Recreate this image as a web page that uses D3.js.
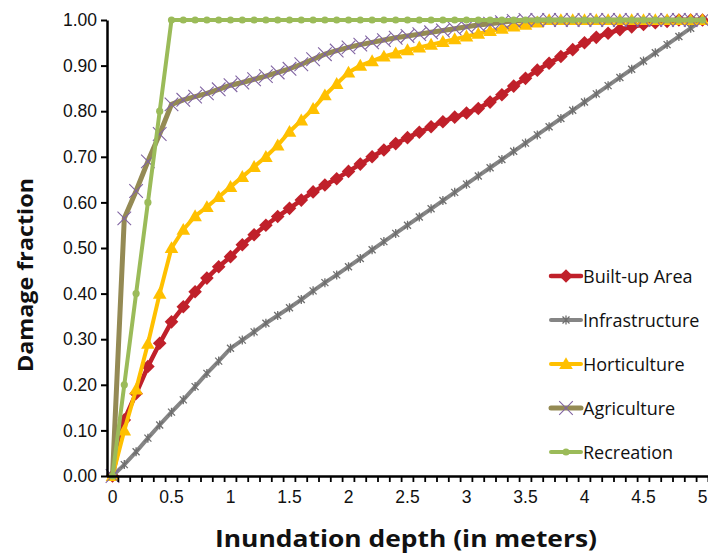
<!DOCTYPE html>
<html>
<head>
<meta charset="utf-8">
<script src="https://cdn.jsdelivr.net/npm/d3@7"></script>
<style>
  body { margin: 0; background: #fff; }
  svg { display: block; font-family: "Open Sans", Lato, sans-serif; }
</style>
</head>
<body>
<div id="chart"></div>
<script>
// Inundation depth categories (m)
var depths = ["0","0.1","0.2","0.3","0.4","0.5","0.6","0.7","0.8","0.9",
              "1","1.1","1.2","1.3","1.4","1.5","1.6","1.7","1.8","1.9",
              "2","2.1","2.2","2.3","2.4","2.5","2.6","2.7","2.8","2.9",
              "3","3.1","3.2","3.3","3.4","3.5","3.6","3.7","3.8","3.9",
              "4","4.1","4.2","4.3","4.4","4.5","4.6","4.7","4.8","4.9","5"];

var builtUp = [0, 0.123, 0.181, 0.24, 0.291, 0.338, 0.371, 0.404, 0.434, 0.459,
               0.481, 0.507, 0.529, 0.55, 0.569, 0.587, 0.605, 0.623, 0.638, 0.652,
               0.668, 0.684, 0.70, 0.715, 0.729, 0.742, 0.754, 0.766, 0.777, 0.787,
               0.796, 0.806, 0.82, 0.836, 0.855, 0.872, 0.89, 0.905, 0.92, 0.935,
               0.95, 0.962, 0.971, 0.979, 0.985, 0.99, 0.994, 0.997, 1, 1, 1];

var infrastructure = [0, 0.025, 0.053, 0.083, 0.112, 0.14, 0.167, 0.196, 0.225, 0.252,
                      0.28, 0.298, 0.316, 0.335, 0.352, 0.369, 0.387, 0.406, 0.424, 0.441,
                      0.459, 0.477, 0.496, 0.514, 0.532, 0.55, 0.568, 0.586, 0.604, 0.622,
                      0.64, 0.658, 0.676, 0.694, 0.712, 0.73, 0.748, 0.766, 0.784, 0.802,
                      0.82, 0.838, 0.856, 0.874, 0.892, 0.91, 0.928, 0.946, 0.964, 0.982, 1];

var horticulture = [0, 0.10, 0.19, 0.29, 0.40, 0.50, 0.54, 0.57, 0.59, 0.612,
                    0.634, 0.656, 0.678, 0.70, 0.725, 0.755, 0.78, 0.805, 0.835, 0.86,
                    0.885, 0.90, 0.91, 0.92, 0.927, 0.934, 0.94, 0.946, 0.952, 0.958,
                    0.964, 0.97, 0.976, 0.981, 0.986, 0.99, 0.995, 1, 1, 1,
                    1, 1, 1, 1, 1, 1, 1, 1, 1, 1, 1];

var agriculture = [0, 0.565, 0.625, 0.69, 0.75, 0.815, 0.825, 0.832, 0.839, 0.848,
                   0.857, 0.863, 0.87, 0.877, 0.885, 0.893, 0.903, 0.914, 0.925, 0.933,
                   0.94, 0.946, 0.951, 0.956, 0.961, 0.965, 0.969, 0.973, 0.977, 0.981,
                   0.985, 0.989, 0.992, 0.995, 0.998, 1, 1, 1, 1, 1,
                   1, 1, 1, 1, 1, 1, 1, 1, 1, 1, 1];

var recreation = [0, 0.2, 0.4, 0.6, 0.8, 1, 1, 1, 1, 1,
                  1, 1, 1, 1, 1, 1, 1, 1, 1, 1,
                  1, 1, 1, 1, 1, 1, 1, 1, 1, 1,
                  1, 1, 1, 1, 1, 1, 1, 1, 1, 1,
                  1, 1, 1, 1, 1, 1, 1, 1, 1, 1, 1];

var yTicks = [0, 0.1, 0.2, 0.3, 0.4, 0.5, 0.6, 0.7, 0.8, 0.9, 1.0];

var series = [
  { name: "Built-up Area",  values: builtUp,        line: "#c0202a", width: 4.5, marker: "diamond" },
  { name: "Infrastructure", values: infrastructure, line: "#858585", width: 4,   marker: "star" },
  { name: "Horticulture",   values: horticulture,   line: "#ffc000", width: 4,   marker: "triangle" },
  { name: "Agriculture",    values: agriculture,    line: "#948a54", width: 5,   marker: "cross" },
  { name: "Recreation",     values: recreation,     line: "#9bbb59", width: 4,   marker: "circle" }
];

var width = 708, height = 553;

var svg = d3.select("#chart").append("svg")
  .attr("width", width)
  .attr("height", height);

var x = d3.scaleBand().domain(depths).range([106.6, 708.4]).paddingInner(0).paddingOuter(0);
var y = d3.scaleLinear().domain([0, 1]).range([476, 20]);
var cx = function(d) { return x(d) + x.bandwidth() / 2; };

// marker drawing
function drawMarker(g, type, px, py, s) {
  if (type === "diamond") {
    var r = 6.8;
    g.append("path")
      .attr("d", "M" + px + "," + (py - r) + "L" + (px + r) + "," + py + "L" + px + "," + (py + r) + "L" + (px - r) + "," + py + "Z")
      .attr("fill", s.line);
  } else if (type === "triangle") {
    var h = 6.8;
    g.append("path")
      .attr("d", "M" + px + "," + (py - h) + "L" + (px + h) + "," + (py + h * 0.75) + "L" + (px - h) + "," + (py + h * 0.75) + "Z")
      .attr("fill", s.line);
  } else if (type === "cross") {
    var c = 6.8;
    g.append("path")
      .attr("d", "M" + (px - c) + "," + (py - c) + "L" + (px + c) + "," + (py + c) + "M" + (px - c) + "," + (py + c) + "L" + (px + c) + "," + (py - c))
      .attr("stroke", "#8064a2").attr("stroke-width", 1.1).attr("fill", "none");
  } else if (type === "circle") {
    g.append("circle").attr("cx", px).attr("cy", py).attr("r", 3.6).attr("fill", s.line);
  } else if (type === "star") {
    var k = 3.5;
    g.append("path")
      .attr("d", "M" + (px - k) + "," + (py - k) + "L" + (px + k) + "," + (py + k) + "M" + (px - k) + "," + (py + k) + "L" + (px + k) + "," + (py - k) +
                 "M" + px + "," + (py - k - 1) + "L" + px + "," + (py + k + 1))
      .attr("stroke", "#6e6e6e").attr("stroke-width", 1.3).attr("fill", "none");
  }
}

// series lines and markers
var line = d3.line()
  .x(function(d, i) { return cx(depths[i]); })
  .y(function(d) { return y(d); });

series.forEach(function(s) {
  var g = svg.append("g").attr("class", "series");
  g.append("path")
    .datum(s.values)
    .attr("d", line)
    .attr("fill", "none")
    .attr("stroke", s.line)
    .attr("stroke-width", s.width)
    .attr("stroke-linejoin", "round");
  s.values.forEach(function(v, i) {
    drawMarker(g, s.marker, cx(depths[i]), y(v), s);
  });
});

// y axis
var yAxis = d3.axisLeft(y)
  .tickValues(yTicks)
  .tickFormat(d3.format(".2f"))
  .tickSizeInner(6)
  .tickSizeOuter(0)
  .tickPadding(4);

var gy = svg.append("g").attr("transform", "translate(107,0)").call(yAxis);
gy.select(".domain").attr("stroke", "#000").attr("stroke-width", 2.5);
gy.selectAll(".tick line").attr("stroke", "#000").attr("stroke-width", 2);
gy.selectAll(".tick text").attr("font-size", 17.5).attr("fill", "#111");

// x axis
var xAxis = d3.axisBottom(x)
  .tickFormat(function(d, i) { return i % 5 === 0 ? d : ""; })
  .tickSize(0)
  .tickPadding(15);

var gx = svg.append("g").attr("transform", "translate(0,476)").call(xAxis);
gx.select(".domain").attr("stroke", "#000").attr("stroke-width", 2.5);
gx.selectAll(".tick text").attr("font-size", 17.5).attr("fill", "#111");

// boundary tick marks between categories
var bounds = depths.map(function(d) { return x(d); }).concat([x.range()[1]]);
gx.selectAll(".btick")
  .data(bounds.slice(1))
  .enter().append("line")
    .attr("class", "btick")
    .attr("x1", function(d) { return d; })
    .attr("x2", function(d) { return d; })
    .attr("y1", 0).attr("y2", 6)
    .attr("stroke", "#000").attr("stroke-width", 1.8);

// axis titles
svg.append("text")
  .attr("x", 406).attr("y", 547)
  .attr("text-anchor", "middle")
  .attr("font-size", 24).attr("font-weight", "bold")
  .attr("fill", "#111")
  .attr("textLength", 382).attr("lengthAdjust", "spacingAndGlyphs")
  .text("Inundation depth (in meters)");

svg.append("text")
  .attr("transform", "translate(33,275) rotate(-90)")
  .attr("text-anchor", "middle")
  .attr("font-size", 21).attr("font-weight", "bold")
  .attr("fill", "#111")
  .attr("textLength", 194).attr("lengthAdjust", "spacingAndGlyphs")
  .text("Damage fraction");

// legend
var legend = svg.append("g").attr("class", "legend");
series.forEach(function(s, i) {
  var ly = 276 + i * 44;
  var lg = legend.append("g");
  lg.append("line")
    .attr("x1", 551).attr("x2", 581)
    .attr("y1", ly).attr("y2", ly)
    .attr("stroke", s.line).attr("stroke-width", s.width)
    .attr("stroke-linecap", "round");
  drawMarker(lg, s.marker, 566, ly, s);
  lg.append("text")
    .attr("x", 583).attr("y", ly + 6.5)
    .attr("font-size", 18).attr("fill", "#111")
    .text(s.name);
});
</script>
</body>
</html>
